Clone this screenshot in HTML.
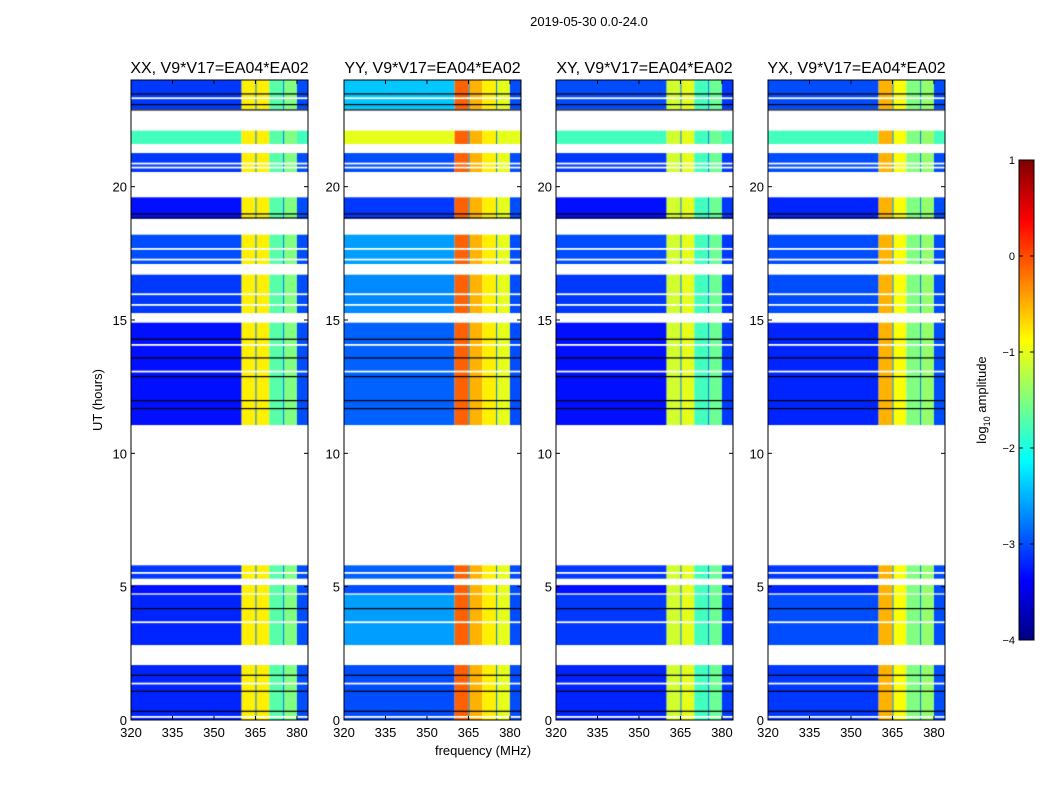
<!DOCTYPE html>
<html><head><meta charset="utf-8">
<style>
body{margin:0;background:#fff;width:1050px;height:800px;overflow:hidden;font-family:"Liberation Sans",sans-serif}
#wrap{position:relative;width:1050px;height:800px}
canvas,svg{position:absolute;left:0;top:0}
</style></head>
<body>
<div id="wrap">
<canvas id="cv" width="1050" height="800"></canvas>
<svg id="sv" width="1050" height="800"></svg>
</div>
<script>
// ---- data ----
const panelTitles = ["XX, V9*V17=EA04*EA02","YY, V9*V17=EA04*EA02","XY, V9*V17=EA04*EA02","YX, V9*V17=EA04*EA02"];
const segStart = [0, 2.81, 4.75, 5.3, 11.06, 15.26, 17.1, 18.8, 20.55, 21.6, 22.9];
const segEnd   = [2.06, 4.7, 5.06, 5.8, 14.9, 16.7, 18.2, 19.6, 21.26, 22.1, 24];
const bandEdges = [320, 360, 365, 370, 375, 380, 384];
const bgXX = [-3.2,-3.2,-3.3,-3.1,-3.3,-3.1,-3.0,-3.3,-3.1,-1.8,-3.1];
const bgYY = [-3.0,-2.6,-3.0,-2.9,-2.9,-2.7,-2.6,-3.1,-3.0,-1.0,-2.4];
const bgXY = [-3.2,-3.1,-3.3,-3.1,-3.3,-3.1,-3.0,-3.3,-3.1,-1.8,-3.0];
const bgYX = [-3.1,-3.0,-3.2,-3.1,-3.2,-3.0,-3.0,-3.2,-3.0,-1.8,-3.0];
const bandXX = [-0.8,-0.8,-1.7,-1.5,-3.0];
const bandYY = [-0.1,-0.5,-0.8,-1.0,-3.0];
const bandXY = [-1.1,-1.0,-1.8,-1.6,-3.1];
const bandYX = [-0.5,-0.9,-1.5,-1.4,-3.0];
const darkLines = [23.5,23.1,22.9,19.0,18.85,14.3,13.6,12.9,12.0,11.7,4.2,1.7,1.1,0.35];
const whiteLines = [23.35,20.9,20.75,17.7,17.3,16.0,15.6,14.1,13.1,5.55,3.7,1.4,0.15];
const yTicks = [0,5,10,15,20];
const xTicks = [320,335,350,365,380];
const cbTicks = [1,0,-1,-2,-3,-4];

const bgs=[bgXX,bgYY,bgXY,bgYX], bands=[bandXX,bandYY,bandXY,bandYX];
const panelX=[131,344,556,768], PW=177, PT=80, PB=720;
const xs=(p,f)=>panelX[p]+(f-320)/(384-320)*PW;
const ys=h=>PB-h/24*(PB-PT);
function jet(v){let t=(v+4)/5;t=Math.max(0,Math.min(1,t));
 const c=x=>Math.round(255*Math.max(0,Math.min(1,x)));
 return `rgb(${c(1.5-Math.abs(4*t-3))},${c(1.5-Math.abs(4*t-2))},${c(1.5-Math.abs(4*t-1))})`;}
const ctx=document.getElementById('cv').getContext('2d');
for(let p=0;p<4;p++){
 for(let s=0;s<segStart.length;s++){
  const y0=ys(segEnd[s]),y1=ys(segStart[s]);
  for(let b=0;b<bandEdges.length-1;b++){
   const v=b===0?bgs[p][s]:(s===9?Math.max(bands[p][b-1],bgs[p][s]):bands[p][b-1]);
   ctx.fillStyle=jet(v);
   const x0=xs(p,bandEdges[b]),x1=xs(p,bandEdges[b+1]);
   ctx.fillRect(x0,y0,x1-x0,y1-y0);
  }
  ctx.fillStyle=jet(-2.8);
  [365,375].forEach(f=>ctx.fillRect(xs(p,f),y0,1,y1-y0));
 }
 const inSeg=h=>segStart.some((a,i)=>h>=a&&h<=segEnd[i]);
 ctx.fillStyle='#000';
 darkLines.forEach(h=>{if(inSeg(h))ctx.fillRect(panelX[p],ys(h),PW,1.2);});
 ctx.fillStyle='#fff';
 whiteLines.forEach(h=>{if(inSeg(h))ctx.fillRect(panelX[p],ys(h),PW,1.8);});
}
// colorbar
const cbX=1019,cbW=15,cbT=160,cbB=640;
for(let y=cbT;y<cbB;y++){ctx.fillStyle=jet(1-(y-cbT)/(cbB-cbT)*5);ctx.fillRect(cbX,y,cbW,1);}

const NS='http://www.w3.org/2000/svg', sv=document.getElementById('sv');
function el(tag,attrs,txt){const e=document.createElementNS(NS,tag);for(const k in attrs)e.setAttribute(k,attrs[k]);if(txt!==undefined)e.textContent=txt;sv.appendChild(e);return e;}
let t=el('text',{x:589,y:26,'text-anchor':'middle','font-size':13,fill:'#000'},'2019-05-30 0.0-24.0');


for(let p=0;p<4;p++){
 const x0=panelX[p];
 let r=el('rect',{x:x0,y:PT,width:PW,height:PB-PT,fill:'none',stroke:'#000','stroke-width':1});
 
 
 let tt=el('text',{x:x0+PW/2,y:73,'text-anchor':'middle','font-size':16,fill:'#000'},panelTitles[p]);
 
 
 yTicks.forEach(v=>{const y=ys(v);
  el('line',{x1:x0,x2:x0+4,y1:y,y2:y,stroke:'#000'});
  el('line',{x1:x0+PW-4,x2:x0+PW,y1:y,y2:y,stroke:'#000'});
  let l=el('text',{x:x0-4,y:y+5,'text-anchor':'end','font-size':13},String(v));
  
  
 });
 xTicks.forEach(v=>{const x=xs(p,v);
  el('line',{x1:x,x2:x,y1:PB,y2:PB-4,stroke:'#000'});
  el('line',{x1:x,x2:x,y1:PT,y2:PT+4,stroke:'#000'});
  let l=el('text',{x:x,y:737,'text-anchor':'middle','font-size':13},String(v));
  
  
 });
}
t=el('text',{x:483,y:755,'text-anchor':'middle','font-size':13},'frequency (MHz)');


t=el('text',{x:102,y:400,'text-anchor':'middle','font-size':13,transform:'rotate(-90 102 400)'},'UT (hours)');


let cb=el('rect',{x:cbX,y:cbT,width:cbW,height:cbB-cbT,fill:'none',stroke:'#000'});


cbTicks.forEach(v=>{const y=cbT+(1-v)/5*(cbB-cbT);
 el('line',{x1:cbX+cbW-4,x2:cbX+cbW,y1:y,y2:y,stroke:'#000'});
 el('line',{x1:cbX,x2:cbX+4,y1:y,y2:y,stroke:'#000'});
 let l=el('text',{x:cbX-4,y:y+4,'text-anchor':'end','font-size':11},v<0?'\u2212'+(-v):String(v));
 
 
});
t=el('text',{x:986,y:400,'text-anchor':'middle','font-size':13,transform:'rotate(-90 986 400)'});
t.innerHTML='log<tspan font-size="9" dy="4">10</tspan><tspan dy="-4"> amplitude</tspan>';


</script>
</body></html>
